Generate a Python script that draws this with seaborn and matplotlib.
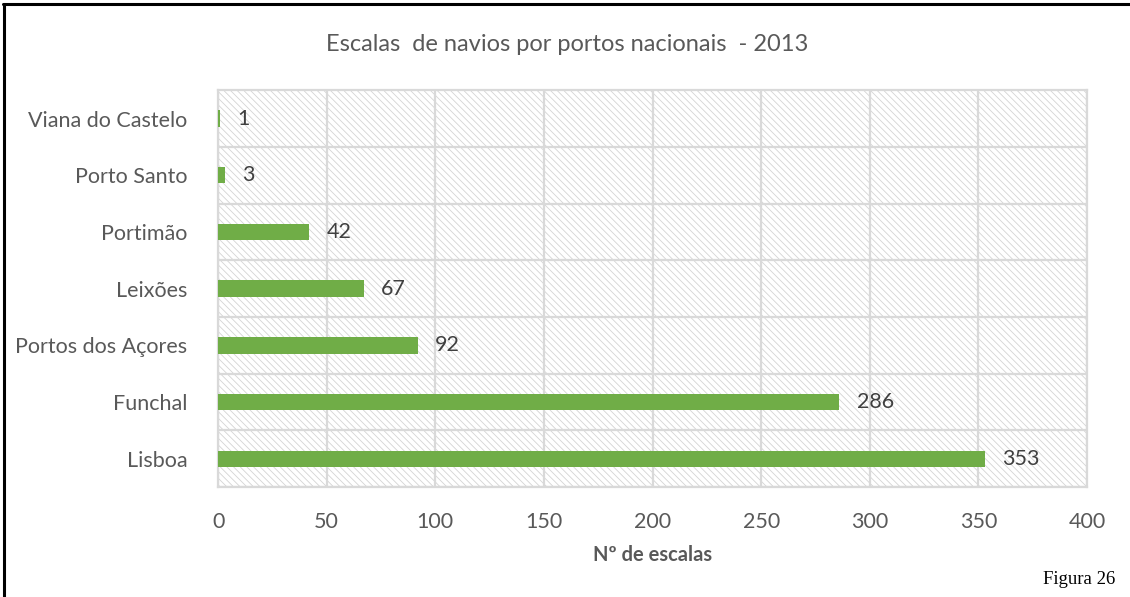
import matplotlib
matplotlib.use("Agg")
import matplotlib.pyplot as plt
import numpy as np
import pandas as pd
import seaborn as sns
from matplotlib.patches import Rectangle

ports = ["Viana do Castelo", "Porto Santo", "Portimão", "Leixões",
         "Portos dos Açores", "Funchal", "Lisboa"]
calls = [1, 3, 42, 67, 92, 286, 353]
x_ticks = [0, 50, 100, 150, 200, 250, 300, 350, 400]

GREEN = "#70AD47"
GRID = "#d9d9d9"
TXT = "#595959"

sns.set_theme(style="white")
plt.rcParams["font.family"] = ["Lato", "DejaVu Sans"]
plt.rcParams["hatch.linewidth"] = 0.6
plt.rcParams["hatch.color"] = "#d4d4d4"

df = pd.DataFrame({"port": ports, "calls": calls})

fig = plt.figure(figsize=(11.30, 5.97), dpi=100)
ax = fig.add_axes([0.193, 0.184, 0.769, 0.665])

# hatched plot background
bg = Rectangle((0, 0), 1, 1, transform=ax.transAxes, facecolor="white",
               edgecolor="#d4d4d4", hatch="\\" * 5, lw=0, zorder=0)
ax.add_patch(bg)

sns.barplot(data=df, x="calls", y="port", order=ports, orient="h",
            color=GREEN, width=0.29, saturation=1, linewidth=0, ax=ax, zorder=3)

for i, v in enumerate(calls):
    ax.text(v + 8, i, f"{v}", va="center", ha="left", fontsize=15.5,
            color="#404040", zorder=4)

ax.set_xlim(0, 400)
ax.set_ylim(len(ports) - 0.5, -0.5)
ax.set_xticks(x_ticks)
ax.set_xticklabels([str(t) for t in x_ticks])
ax.set_yticks(np.arange(len(ports)) + 0.5, minor=True)
ax.grid(axis="x", color=GRID, lw=1.6, zorder=1)
ax.grid(axis="y", which="minor", color=GRID, lw=1.6, zorder=1)
ax.grid(axis="y", which="major", visible=False)
ax.set_axisbelow(True)
ax.tick_params(axis="x", length=0, labelsize=15.5, labelcolor=TXT, pad=18)
ax.tick_params(axis="y", which="major", length=0, labelsize=15.5,
               labelcolor=TXT, pad=22)
ax.tick_params(axis="y", which="minor", length=6, color=GRID, width=1.6)
for s in ax.spines.values():
    s.set_color(GRID)
    s.set_linewidth(1.6)

ax.set_ylabel("")
ax.set_xlabel("Nº de escalas", fontsize=14.5, fontweight="bold", color=TXT,
              labelpad=9)

fig.text(0.502, 0.925, "Escalas  de navios por portos nacionais  - 2013",
         ha="center", va="center", fontsize=17, color=TXT)
fig.text(0.987, 0.015, "Figura 26", ha="right", va="bottom", fontsize=13.5,
         color="black", family=["Liberation Serif"])

# outer frame (left and top only)
fig.add_artist(plt.Line2D([0.0035, 0.0035], [0, 0.993], transform=fig.transFigure,
                          color="black", lw=2.2))
fig.add_artist(plt.Line2D([0.0025, 1], [0.993, 0.993], transform=fig.transFigure,
                          color="black", lw=2.2))

fig.savefig("out.png", dpi=100)
